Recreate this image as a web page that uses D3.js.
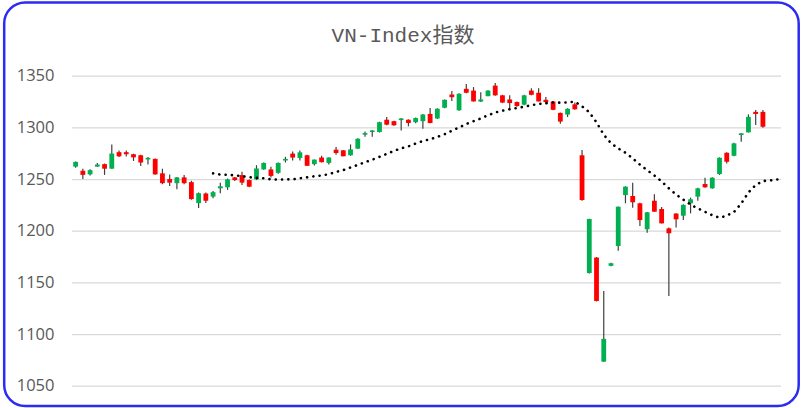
<!DOCTYPE html>
<html>
<head>
<meta charset="utf-8">
<script src="https://cdn.jsdelivr.net/npm/d3@7"></script>
<style>
  html, body { margin: 0; padding: 0; background: #fff; }
  svg { display: block; }
</style>
</head>
<body>
<svg id="chart" width="801" height="408"></svg>
<script>
// daily OHLC, one entry per session
let opens = [1262, 1258, 1254.5, 1262, 1264.4, 1260, 1276, 1276, 1274, 1273,
	1269, 1269.5, 1255.5, 1250, 1246, 1251.6, 1247, 1226.7, 1236, 1233,
	1241, 1242, 1251.6, 1253.8, 1249, 1249.7, 1259.3, 1259.3, 1256, 1268,
	1274.6, 1270.4, 1273, 1264.4, 1270.8, 1265.6, 1278.4, 1277.8, 1273, 1279.4,
	1293, 1296, 1295.5, 1307.4, 1306, 1307.3, 1307.4, 1305, 1306, 1313,
	1308.6, 1319, 1331.8, 1316.5, 1337.3, 1335.6, 1325, 1330.2, 1340.4, 1331,
	1327, 1324.5, 1322, 1335.6, 1333.5, 1326.7, 1325, 1314, 1312.4, 1322.3,
	1273, 1159, 1174, 1073.3, 1166, 1185.2, 1234.5, 1233.6, 1226.5, 1201.4,
	1229, 1221, 1202.3, 1216.6, 1214.5, 1226.5, 1233, 1245.2, 1241, 1254.8,
	1275.4, 1272.5, 1292.6, 1295.2, 1315, 1315];
let highs = [1267, 1260, 1259.5, 1265.5, 1265, 1283.5, 1277.5, 1277.5, 1274.5, 1273.5,
	1271.3, 1269.8, 1260, 1254.5, 1252, 1254, 1248.4, 1237, 1237, 1238.5,
	1246.5, 1250.5, 1252, 1257, 1249.5, 1263.4, 1266, 1261.8, 1266, 1271.5,
	1276.6, 1277.5, 1273.5, 1269, 1272.5, 1271, 1281, 1278, 1283.5, 1289.5,
	1296, 1297.5, 1305.5, 1310, 1306.5, 1309, 1307.8, 1309.5, 1313, 1318.8,
	1318.5, 1327, 1335.2, 1333, 1342, 1339, 1334, 1336, 1343, 1331.5,
	1331, 1325, 1331.5, 1337.8, 1337.8, 1329.5, 1325.5, 1314.5, 1318.5, 1324,
	1278, 1211.5, 1174.5, 1141.7, 1169, 1223.5, 1243, 1246.4, 1227, 1218,
	1235.2, 1223, 1203, 1217, 1225.5, 1232, 1241.5, 1251.3, 1251.8, 1271,
	1276, 1285, 1294.5, 1312.6, 1316.7, 1316.7];
let lows = [1261, 1250, 1253.5, 1262, 1254, 1260, 1271.3, 1271.7, 1267.5, 1262.7,
	1264, 1254.2, 1245, 1243.3, 1240, 1245, 1230, 1222, 1226.7, 1231.5,
	1236.3, 1239.5, 1248, 1244.3, 1242, 1249, 1259, 1251.6, 1255, 1266,
	1268, 1268, 1262.5, 1263, 1266, 1264, 1273.5, 1272, 1272.5, 1279,
	1291, 1291, 1295, 1302, 1301.5, 1297, 1301, 1304, 1298.7, 1304,
	1308, 1318.5, 1325.6, 1316, 1333, 1325, 1324.5, 1330, 1330.5, 1323.5,
	1316.5, 1320, 1321.5, 1331, 1325, 1322.4, 1316.5, 1303.5, 1310, 1317,
	1229, 1158.5, 1131.5, 1073, 1165.5, 1180.7, 1226.5, 1222.2, 1204.5, 1198,
	1218, 1207, 1136.8, 1203, 1210.3, 1216.8, 1229, 1241.5, 1240.5, 1254,
	1265, 1272, 1286, 1295, 1302.2, 1299.6];
let closes = [1266.6, 1254, 1258.6, 1264, 1260, 1274.6, 1272, 1274, 1271, 1266,
	1270.5, 1254.5, 1246, 1246.5, 1251.6, 1246, 1230.6, 1236.3, 1229, 1237.3,
	1243, 1249.7, 1249, 1246.5, 1242.6, 1260.2, 1265.6, 1253, 1265.6, 1269.5,
	1270.8, 1275.8, 1262.8, 1268.8, 1266.3, 1270.8, 1275.2, 1272, 1278.7, 1289,
	1294.5, 1297, 1305, 1302.6, 1302, 1308.6, 1304.2, 1309, 1312.4, 1304.2,
	1318, 1326.7, 1329.2, 1332.5, 1333.5, 1325.1, 1327, 1335.6, 1331, 1324,
	1323.5, 1320.6, 1331, 1331.5, 1325.1, 1324.5, 1317, 1305.6, 1318, 1317.5,
	1229.7, 1211.3, 1132, 1095.3, 1168.5, 1223.2, 1242.6, 1227.5, 1210.3, 1217.8,
	1218.4, 1207.1, 1197.5, 1211, 1225, 1230.4, 1241, 1242, 1251.3, 1270.6,
	1266.7, 1284.5, 1294.2, 1310.2, 1313, 1300.6];
// 20-session moving average, as drawn (dotted line), starts at session 20
let ma = [null, null, null, null, null, null, null, null, null, null,
	null, null, null, null, null, null, null, null, null, 1255.5,
	1254.3, 1254.1, 1253.6, 1252.7, 1251.8, 1251.1, 1250.8, 1249.7, 1249.5, 1249.7,
	1249.7, 1250.7, 1251.6, 1252.7, 1253.4, 1254.7, 1256.9, 1258.7, 1261.2, 1263.7,
	1266.3, 1268.7, 1271.5, 1274.3, 1277.3, 1279.7, 1281.6, 1284.4, 1286.8, 1288.5,
	1290.8, 1293.4, 1296.7, 1299.9, 1303.3, 1306.0, 1308.6, 1311.7, 1314.4, 1316.1,
	1317.6, 1318.7, 1320.0, 1321.5, 1322.6, 1323.4, 1324.1, 1323.9, 1324.2, 1324.8,
	1320.4, 1314.7, 1304.8, 1292.9, 1284.7, 1279.6, 1275.4, 1270.0, 1263.9, 1258.6,
	1253.4, 1247.7, 1241.0, 1235.0, 1230.0, 1225.3, 1221.5, 1218.3, 1215.0, 1212.6,
	1214.5, 1218.1, 1226.3, 1237.0, 1244.2, 1248.1, 1248.6, 1249.6];
let yTicks = [1050, 1100, 1150, 1200, 1250, 1300, 1350];
let title = "VN-Index指数";

let svg = d3.select("#chart");
let width = 801, height = 408;
let margin = {left: 72, right: 781, top: 75.7, bottom: 385.7};

// session slots (two trailing slots carry only the average)
let sessions = d3.range(1, ma.length + 1);

let x = d3.scaleBand()
	.domain(sessions)
	.range([margin.left, margin.right])
	.padding(0);
let y = d3.scaleLinear()
	.domain([1050, 1350])
	.range([margin.bottom, margin.top]);

let candles = closes.map((c, i) => ({
	s: sessions[i], o: opens[i], h: highs[i], l: lows[i], c: c
}));

// frame
svg.append("rect")
	.attr("x", 4.2).attr("y", 2.5)
	.attr("width", width - 6.5).attr("height", height - 4.5)
	.attr("rx", 21).attr("ry", 21)
	.attr("fill", "#fff")
	.attr("stroke", "#2b2bf2")
	.attr("stroke-width", 2.5);

// title
svg.append("text")
	.attr("x", 403).attr("y", 42)
	.attr("text-anchor", "middle")
	.attr("font-family", "'Liberation Mono', 'Noto Sans CJK SC', monospace")
	.attr("font-size", 21)
	.attr("fill", "#595959")
	.text(title);

// y axis, gridlines only
let yAxis = svg.append("g")
	.call(d3.axisLeft(y).tickValues(yTicks).tickFormat(d3.format("d"))
		.tickSize(-(margin.right - margin.left)).tickPadding(17.5))
	.attr("transform", `translate(${margin.left},0)`);
yAxis.select(".domain").remove();
yAxis.selectAll(".tick line")
	.attr("stroke", "#d9d9d9")
	.attr("stroke-width", 1.3);
yAxis.selectAll(".tick text")
	.attr("font-family", "'Open Sans', sans-serif")
	.attr("font-size", 16.5)
	.attr("fill", "#595959");

let bw = 4.8;
let cx = d => x(d.s) + x.bandwidth() / 2;

// wicks
svg.append("g")
	.selectAll("line")
	.data(candles)
	.join("line")
	.attr("x1", cx).attr("x2", cx)
	.attr("y1", d => y(d.h))
	.attr("y2", d => y(d.l))
	.attr("stroke", "#404040")
	.attr("stroke-width", 1.2);

// bodies
svg.append("g")
	.selectAll("rect")
	.data(candles)
	.join("rect")
	.attr("x", d => cx(d) - bw / 2)
	.attr("width", bw)
	.attr("y", d => y(Math.max(d.o, d.c)))
	.attr("height", d => Math.max(1.6, Math.abs(y(d.o) - y(d.c))))
	.attr("fill", d => d.c >= d.o ? "#00b050" : "#ff0000");

// moving average, dotted
let maLine = d3.line()
	.defined(d => d.v != null)
	.x(d => x(d.s) + x.bandwidth() / 2)
	.y(d => y(d.v));

svg.append("path")
	.datum(ma.map((v, i) => ({s: sessions[i], v: v})))
	.attr("d", maLine)
	.attr("fill", "none")
	.attr("stroke", "#000")
	.attr("stroke-width", 2.6)
	.attr("stroke-linecap", "round")
	.attr("stroke-dasharray", "0.1 6.2");
</script>
</body>
</html>
